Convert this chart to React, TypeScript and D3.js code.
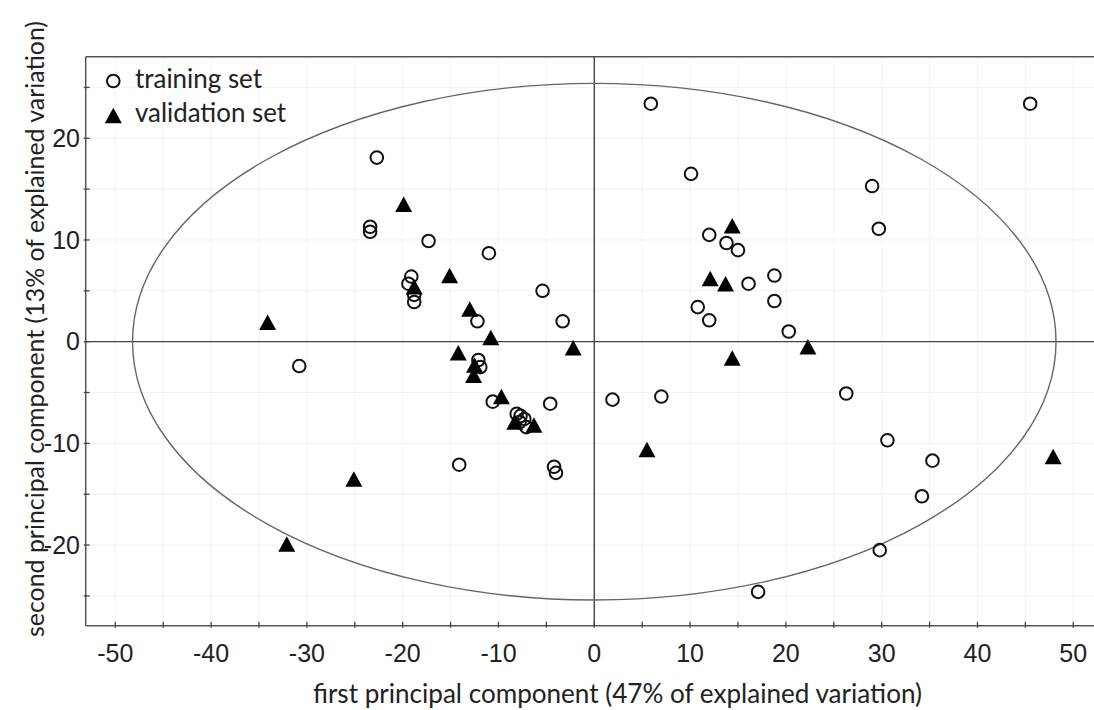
import React from "react";
import * as d3 from "d3";

const trainingSet: [number, number][] = [
  [5.9, 23.4], [45.5, 23.4], [-22.7, 18.1], [10.1, 16.5], [29.0, 15.3],
  [-23.4, 11.3], [-23.4, 10.8], [-17.3, 9.9], [-11.0, 8.7], [29.7, 11.1],
  [12.0, 10.5], [13.8, 9.7], [15.0, 9.0], [16.1, 5.7], [18.8, 6.5],
  [18.8, 4.0], [10.8, 3.4], [12.0, 2.1], [20.3, 1.0], [-19.1, 6.4],
  [-19.4, 5.7], [-18.8, 4.6], [-18.8, 3.9], [-12.2, 2.0], [-5.4, 5.0],
  [-3.3, 2.0], [-12.1, -1.8], [-11.9, -2.5], [-10.6, -5.9], [-4.6, -6.1],
  [-8.1, -7.1], [-7.7, -7.3], [-7.3, -7.6], [-7.8, -7.9], [-7.1, -8.4],
  [-14.1, -12.1], [-4.2, -12.3], [-4.0, -12.9], [-30.8, -2.4], [1.9, -5.7],
  [7.0, -5.4], [26.3, -5.1], [30.6, -9.7], [35.3, -11.7], [34.2, -15.2],
  [29.8, -20.5], [17.1, -24.6],
];

const validationSet: [number, number][] = [
  [-19.9, 13.5], [-15.1, 6.5], [-18.8, 5.4], [-13.0, 3.2], [-10.8, 0.4],
  [-34.1, 1.9], [-14.2, -1.1], [-2.2, -0.6], [-12.5, -2.3], [-12.6, -3.3],
  [-9.7, -5.4], [-8.3, -7.9], [-6.3, -8.2], [-25.1, -13.5], [-32.1, -19.9],
  [14.4, 11.4], [12.1, 6.2], [13.7, 5.7], [14.4, -1.6], [22.3, -0.5],
  [5.5, -10.6], [47.9, -11.3],
];

const xTicks = [-50, -40, -30, -20, -10, 0, 10, 20, 30, 40, 50];
const yTicks = [-20, -10, 0, 10, 20];
const minorStep = 5;
const ellipseRadii = [48.2, 25.4];

const xTitle = "first principal component (47% of explained variation)";
const yTitle = "second principal component (13% of explained variation)";
const legendLabels = ["training set", "validation set"];

const W = 1094;
const H = 710;
const left = 85.7;
const top = 56.7;
const bottom = 625.7;
const right = 1100;

const x = d3.scaleLinear().domain([-53.09, 52.79]).range([left, right]);
const y = d3.scaleLinear().domain([-27.93, 28.02]).range([bottom, top]);

const titleFont = "Lato, 'Open Sans', sans-serif";
const tickFont = "'Liberation Sans', Arial, sans-serif";

function triPath(cx: number, cy: number, s = 17, h = 15.5) {
  return `M${cx},${cy - h / 2}L${cx + s / 2},${cy + h / 2}L${cx - s / 2},${cy + h / 2}Z`;
}

export default function App() {
  const gridX = d3.range(-50, 55, minorStep);
  const gridY = d3.range(-25, 30, minorStep);
  return (
    <svg
      width={W}
      height={H}
      style={{ position: "absolute", left: 0, top: 0, background: "#fff" }}
    >
      <rect x={0} y={0} width={W} height={H} fill="#fff" />
      {gridX.map((v) => (
        <line key={"gx" + v} x1={x(v)} x2={x(v)} y1={top} y2={bottom} stroke="#f3f3f3" strokeWidth={1} />
      ))}
      {gridY.map((v) => (
        <line key={"gy" + v} x1={left} x2={right} y1={y(v)} y2={y(v)} stroke="#f3f3f3" strokeWidth={1} />
      ))}
      <line x1={left} x2={right} y1={top} y2={top} stroke="#555" strokeWidth={1.5} />
      <line x1={left} x2={left} y1={top} y2={bottom} stroke="#555" strokeWidth={1.5} />
      <line x1={left} x2={right} y1={bottom} y2={bottom} stroke="#555" strokeWidth={1.5} />
      {gridX.map((v) => (
        <line key={"tx" + v} x1={x(v)} x2={x(v)} y1={bottom - 4} y2={bottom + 2} stroke="#444" strokeWidth={1.3} />
      ))}
      {gridY.map((v) => (
        <line key={"ty" + v} x1={left - 2} x2={left + 4} y1={y(v)} y2={y(v)} stroke="#444" strokeWidth={1.3} />
      ))}
      <line x1={left} x2={right} y1={y(0)} y2={y(0)} stroke="#444" strokeWidth={1.4} />
      <line x1={x(0)} x2={x(0)} y1={top} y2={bottom} stroke="#444" strokeWidth={1.4} />
      <ellipse
        cx={x(0)}
        cy={y(0)}
        rx={x(ellipseRadii[0]) - x(0)}
        ry={y(0) - y(ellipseRadii[1])}
        fill="none"
        stroke="#666"
        strokeWidth={1.4}
      />
      {xTicks.map((v) => (
        <text key={"lx" + v} x={x(v)} y={662} textAnchor="middle" fontFamily={tickFont} fontSize={25} fill="#222">
          {v}
        </text>
      ))}
      {yTicks.map((v) => (
        <text key={"ly" + v} x={80} y={y(v)} dy="0.35em" textAnchor="end" fontFamily={tickFont} fontSize={25} fill="#222">
          {v}
        </text>
      ))}
      {trainingSet.map((d, i) => (
        <circle key={"c" + i} cx={x(d[0])} cy={y(d[1])} r={6.3} fill="none" stroke="#111" strokeWidth={2} />
      ))}
      {validationSet.map((d, i) => (
        <path key={"t" + i} d={triPath(x(d[0]), y(d[1]))} fill="#000" />
      ))}
      <circle cx={113.3} cy={81} r={6.3} fill="none" stroke="#111" strokeWidth={2} />
      <text x={135} y={88} fontFamily={titleFont} fontSize={26} fill="#222" textLength={127} lengthAdjust="spacingAndGlyphs">
        {legendLabels[0]}
      </text>
      <path d={triPath(113.3, 115.5)} fill="#000" />
      <text x={135} y={122} fontFamily={titleFont} fontSize={26} fill="#222" textLength={151} lengthAdjust="spacingAndGlyphs">
        {legendLabels[1]}
      </text>
      <text x={617.5} y={703} textAnchor="middle" fontFamily={titleFont} fontSize={26} fill="#222" textLength={609} lengthAdjust="spacingAndGlyphs">
        {xTitle}
      </text>
      <text
        transform={`translate(44,329) rotate(-90)`}
        textAnchor="middle"
        fontFamily={titleFont}
        fontSize={25}
        fill="#222"
        textLength={616}
        lengthAdjust="spacingAndGlyphs"
      >
        {yTitle}
      </text>
    </svg>
  );
}
